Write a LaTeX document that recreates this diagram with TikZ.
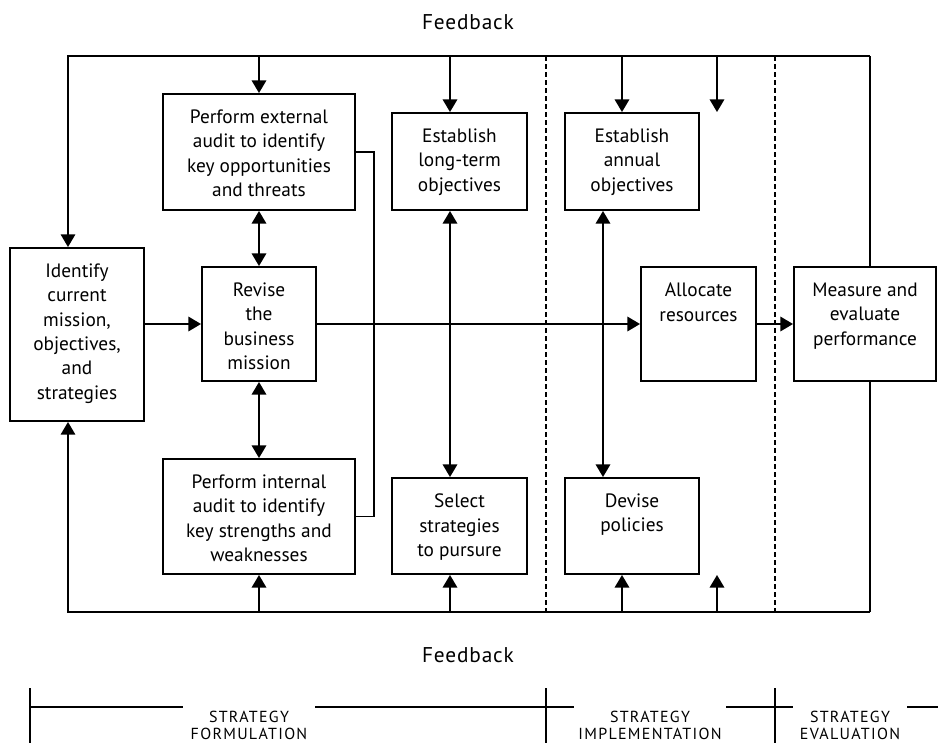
\documentclass[tikz,border=0pt]{standalone}
\usepackage{fontspec}
\setmainfont{PT Sans}
\usetikzlibrary{arrows.meta}
\tikzset{
  box/.style={draw, line width=1.3pt, inner sep=0pt},
  link/.style={line width=2.2pt},
  loop/.style={line width=2pt},
  thinlink/.style={line width=1.2pt},
  phase/.style={line width=2.2pt, dash pattern=on 4pt off 2pt},
  stage/.style={fill=white, anchor=north, inner ysep=5pt, align=center,
    font=\fontsize{12}{12.5}\selectfont\addfontfeatures{LetterSpace=8}},
  >={Triangle[length=9.5pt,width=10.5pt]}
}
\newlength{\boxpad}\setlength{\boxpad}{12pt}
\newcommand{\boxtext}[3]{\parbox[c][#2][t]{#1}{\centering\vspace*{\boxpad}#3\par}}

\begin{document}
\begin{tikzpicture}[x=0.75pt, y=-0.75pt, font=\fontsize{14.5}{18.2}\selectfont]
      \useasboundingbox (0,0) rectangle (938,743);

      \node[box] (ident) at (77,334.5) {\boxtext{100.5pt}{129.75pt}{Identify\\current\\mission,\\objectives,\\and\\strategies}};
      \node[box] (ext) at (259,152) {\boxtext{144pt}{87pt}{Perform external\\audit to identify\\key opportunities\\and threats}};
      \node[box] (rev) at (259,324) {\boxtext{85.5pt}{85.5pt}{Revise\\the\\business\\mission}};
      \node[box] (int) at (259,516.5) {\boxtext{144pt}{86.25pt}{Perform internal\\audit to identify\\key strengths and\\weaknesses}};
      \node[box] (long) at (459.5,161.5) {\boxtext{101.25pt}{72.75pt}{Establish\\long-term\\objectives}};
      \node[box] (sel) at (459.5,526) {\boxtext{101.25pt}{72pt}{Select\\strategies\\to pursure}};
      \node[box] (ann) at (632,161.5) {\boxtext{100.5pt}{72.75pt}{Establish\\annual\\objectives}};
      \node[box] (dev) at (632,526) {\boxtext{100.5pt}{72pt}{Devise\\policies}};
      \node[box] (alloc) at (698.5,324) {\boxtext{86.25pt}{85.5pt}{Allocate\\resources}};
      \node[box] (meas) at (865,324) {\boxtext{106.5pt}{85.5pt}{Measure and\\evaluate\\performance}};

      \node[font=\fontsize{16}{19}\selectfont\addfontfeatures{LetterSpace=4}] (fbtop) at (468,22) {Feedback};
      \node[font=\fontsize{16}{19}\selectfont\addfontfeatures{LetterSpace=4}] (fbbot) at (468,655) {Feedback};

      % feedback loop
      \coordinate (tl) at (68,56);
      \coordinate (tr) at (870,56);
      \coordinate (bl) at (68,612);
      \coordinate (br) at (870,612);
      \coordinate (t1) at (259,56);
      \coordinate (t2) at (450,56);
      \coordinate (t3) at (622,56);
      \coordinate (t4) at (717,56);
      \coordinate (b1) at (259,612);
      \coordinate (b2) at (450,612);
      \coordinate (b3) at (622,612);
      \coordinate (b4) at (717,612);
      \coordinate (pol) at (603,340);
      \coordinate (aud) at (374,340);

      \draw[loop, <-] (tl |- ident.north) -- (tl) -- (tr);
      \draw[loop, <-] (bl |- ident.south) -- (bl) -- (br);
      \draw[thinlink] (tr) -- (tr |- meas.north);
      \draw[thinlink] (br) -- (br |- meas.south);
      \foreach \c/\n in {t1/ext, t2/long, t3/ann, t4/ann}
        \draw[link, ->] (\c) -- (\c |- \n.north);
      \foreach \c/\n in {b1/int, b2/sel, b3/dev, b4/dev}
        \draw[link, ->] (\c) -- (\c |- \n.south);

      \draw[link, <->] (ext.south) -- (rev.north);
      \draw[link, <->] (rev.south) -- (int.north);
      \draw[link, <->] (t2 |- long.south) -- (t2 |- sel.north);
      \draw[link, <->] (pol |- ann.south) -- (pol |- dev.north);

      \draw[link, ->] (ident.east |- rev.west) -- (rev.west);
      \draw[link, ->] (rev.east) -- (alloc.west);
      \draw[link, ->] (alloc.east) -- (meas.west);

      \draw[thinlink] (ext.east) -- (ext.east -| aud) -- (int.east -| aud) -- (int.east);

      \draw[phase] (546,56) -- (546,612);
      \draw[phase] (775,56) -- (775,612);

      % stages
      \draw[thinlink] (30,707) -- (938,707);
      \draw[thinlink] (30,688) -- (30,743);
      \draw[thinlink] (546,688) -- (546,743);
      \draw[thinlink] (775,688) -- (775,743);
      \node[stage, minimum width=99pt] (form) at (249,704) {STRATEGY\\FORMULATION};
      \node[stage, minimum width=100.5pt] (impl) at (650,704) {STRATEGY\\IMPLEMENTATION};
      \node[stage, minimum width=86pt] (eval) at (850,704) {STRATEGY\\EVALUATION};
\end{tikzpicture}
\end{document}
